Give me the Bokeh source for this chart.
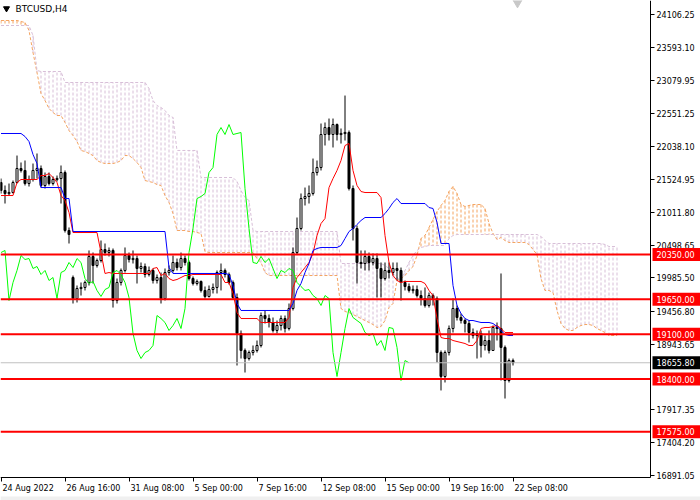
from bokeh.plotting import figure
from bokeh.models import Range1d, FixedTicker, PrintfTickFormatter, LinearAxis
from bokeh.core.properties import value
from bokeh.embed import file_html
from bokeh.resources import INLINE

symbol_title = "BTCUSD,H4"
time_labels = ["24 Aug 2022", "26 Aug 16:00", "31 Aug 08:00", "5 Sep 00:00", "7 Sep 16:00",
               "12 Sep 08:00", "15 Sep 00:00", "19 Sep 16:00", "22 Sep 08:00"]
time_label_bars = [0, 16, 32, 48, 64, 80, 96, 112, 128]
price_ticks = [24106.25, 23593.10, 23079.95, 22551.25, 22038.10, 21524.95, 21011.80,
               20498.65, 19985.50, 19456.80, 18943.65, 17917.35, 17404.20, 16891.05]
levels = [20350.0, 19650.0, 19100.0, 18400.0, 17575.0]
last_price = 18655.80
chikou_shift = 26

opens = [21477, 21352, 21304, 21320, 21477, 21696, 21665, 21461, 21524, 21665,
         21696, 21430, 21571, 21461, 21524, 21539, 21633, 20726, 19990, 19661,
         19818, 19834, 19912, 20319, 20178, 20256, 20428, 20381, 20413, 19630,
         19912, 20100, 20334, 20272, 20287, 20131, 20162, 20037, 20100, 19943,
         19990, 19661, 20068, 20100, 20225, 20146, 20287, 20225, 19974, 19896,
         19928, 19787, 19693, 19802, 19834, 20068, 20100, 20037, 19912, 19677,
         19114, 18848, 18722, 18816, 18848, 18926, 19395, 19348, 19286, 19161,
         19239, 19348, 19192, 19505, 20381, 20757, 21226, 21258, 21305, 21633,
         21711, 22228, 22337, 22228, 22384, 22228, 22244, 22259, 21383, 20757,
         20225, 20209, 20319, 20225, 20287, 20131, 19974, 20100, 20068, 20131,
         20100, 19912, 19849, 19787, 19802, 19708, 19661, 19552, 19708, 19661,
         18816, 18441, 18816, 19192, 19505, 19364, 19317, 19270, 19129, 19082,
         19114, 18926, 19004, 18848, 19208, 19192, 18895, 18378, 18691]
highs = [21539, 21430, 21461, 21508, 21899, 21790, 21821, 21586, 21774, 21931,
         21743, 21633, 21633, 21571, 21586, 21743, 21665, 20773, 20021, 19865,
         19912, 19943, 20413, 20381, 20287, 20569, 20522, 20460, 20444, 19974,
         20131, 20460, 20381, 20413, 20334, 20225, 20209, 20162, 20131, 20037,
         20068, 20131, 20178, 20334, 20287, 20381, 20334, 20256, 20006, 19959,
         19943, 19849, 19865, 19896, 20100, 20209, 20131, 20068, 19943, 19740,
         19161, 18879, 18848, 18926, 19004, 19442, 19474, 19411, 19364, 19317,
         19395, 19395, 19583, 20460, 20929, 21305, 21398, 21430, 21852, 21821,
         22400, 22416, 22478, 22478, 22400, 22322, 22838, 22291, 21430, 20804,
         20413, 20413, 20381, 20366, 20366, 20225, 20225, 20225, 20225, 20225,
         20146, 19943, 19896, 19865, 19865, 19787, 19834, 19755, 19740, 19693,
         18848, 18848, 19239, 19661, 19552, 19426, 19348, 19317, 19192, 19161,
         19161, 19082, 19161, 19239, 19286, 20053, 18926, 18722, 18722]
lows = [21304, 21148, 21273, 21304, 21461, 21633, 21430, 21414, 21492, 21539,
        21399, 21383, 21430, 21430, 21492, 21148, 20694, 20522, 19583, 19599,
        19708, 19787, 19865, 19896, 20146, 20225, 20334, 20319, 19520, 19583,
        19865, 20068, 20225, 20209, 19896, 20068, 19990, 20006, 19896, 19896,
        19583, 19630, 20021, 20068, 20100, 20100, 20178, 19943, 19865, 19865,
        19755, 19661, 19677, 19740, 19740, 19787, 19990, 19881, 19646, 18613,
        18722, 18503, 18691, 18770, 18816, 18895, 19270, 19208, 19129, 19114,
        19161, 19129, 19161, 19474, 20350, 20726, 21117, 21148, 21273, 21586,
        21665, 22056, 22134, 22025, 22134, 22087, 22134, 21352, 20569, 19896,
        20131, 20100, 20100, 20178, 19677, 19677, 19943, 19974, 20021, 19943,
        19630, 19787, 19755, 19740, 19677, 19552, 19520, 19520, 19552, 18660,
        18222, 18347, 18770, 19129, 19317, 19270, 19129, 18973, 19035, 18722,
        18738, 18848, 18801, 18848, 19004, 18378, 18096, 18347, 18613]
closes = [21352, 21304, 21320, 21477, 21696, 21665, 21461, 21524, 21665, 21696,
          21430, 21571, 21461, 21524, 21539, 21633, 20726, 20663, 19661, 19818,
          19834, 19912, 20319, 20178, 20256, 20428, 20381, 20413, 19630, 19912,
          20100, 20334, 20272, 20287, 20131, 20162, 20037, 20100, 19943, 19990,
          19661, 20068, 20100, 20225, 20146, 20287, 20225, 19974, 19896, 19928,
          19787, 19693, 19802, 19834, 20068, 20100, 20037, 19912, 19677, 19114,
          18848, 18722, 18816, 18848, 18926, 19395, 19348, 19286, 19161, 19239,
          19348, 19192, 19505, 20381, 20757, 21226, 21258, 21305, 21633, 21711,
          22228, 22337, 22228, 22384, 22228, 22244, 22259, 21383, 20757, 20225,
          20209, 20319, 20225, 20287, 20131, 19974, 20100, 20068, 20131, 20100,
          19912, 19849, 19787, 19802, 19708, 19661, 19552, 19708, 19661, 18816,
          18441, 18816, 19192, 19505, 19364, 19317, 19270, 19129, 19082, 19114,
          18926, 19004, 18848, 19208, 19192, 18895, 18378, 18691, 18655.8]

tenkan = [21273, 21273, 21273, 21273, 21477, 21524, 21524, 21524, 21524, 21524,
          21586, 21586, 21618, 21555, 21477, 21273, 21195, 21007, 20694, 20694,
          20694, 20694, 20694, 20694, 20694, 20381, 20053, 20068, 20053, 20053,
          20053, 20053, 20053, 20053, 20053, 20053, 20053, 20053, 20131, 20146,
          20021, 20053, 19974, 19943, 19959, 19990, 20021, 20021, 20037, 20037,
          20037, 20037, 20037, 20037, 20037, 20037, 19912, 19912, 19740, 19442,
          19348, 19348, 19348, 19348, 19348, 19286, 19286, 19286, 19286, 19286,
          19286, 19286, 19364, 19834, 19990, 20068, 20146, 20225, 20366, 20647,
          20835, 20913, 21398, 21539, 21665, 21821, 22056, 22087, 21665, 21430,
          21336, 21320, 21320, 21320, 21320, 21242, 20647, 20225, 20021, 19943,
          19912, 19928, 19928, 19928, 19928, 19928, 19896, 19787, 19708, 19348,
          19051, 19035, 19035, 19004, 18988, 18973, 18957, 18926, 18926, 19004,
          19192, 19208, 19208, 19223, 19239, 19192, 19129, 19129, 19129]
kijun = [22244, 22244, 22244, 22244, 22244, 22244, 22197, 22118, 21915, 21774,
         21398, 21398, 21398, 21398, 21398, 21398, 21226, 21226, 20710, 20710,
         20710, 20710, 20710, 20710, 20710, 20710, 20710, 20710, 20710, 20710,
         20710, 20710, 20710, 20710, 20710, 20710, 20710, 20710, 20710, 20710,
         20710, 20710, 20146, 20053, 20053, 20053, 20053, 20053, 20053, 20053,
         20053, 20053, 20053, 20053, 20053, 20053, 20053, 20037, 19865, 19583,
         19474, 19474, 19474, 19474, 19474, 19474, 19474, 19474, 19474, 19474,
         19474, 19474, 19474, 19583, 19787, 19896, 20068, 20209, 20413, 20444,
         20460, 20460, 20460, 20460, 20460, 20491, 20600, 20710, 20757, 20820,
         20882, 20929, 20929, 20929, 20929, 20929, 20991, 21070, 21164, 21226,
         21148, 21148, 21148, 21148, 21148, 21148, 21148, 21085, 21070, 20851,
         20522, 20522, 20522, 19865, 19552, 19426, 19348, 19317, 19317, 19301,
         19286, 19286, 19286, 19270, 19223, 19161, 19098, 19082, 19082]
span_a = [24012, 24012, 24012, 24012, 24012, 23996, 23981, 23856, 23511, 23198,
          22870, 22760, 22635, 22572, 22525, 22525, 22416, 22291, 22212, 22118,
          21978, 21962, 21931, 21899, 21821, 21790, 21774, 21774, 21774, 21790,
          21821, 21899, 21899, 21852, 21790, 21711, 21508, 21492, 21477, 21445,
          21430, 21273, 21164, 20992, 20726, 20726, 20726, 20710, 20710, 20694,
          20679, 20397, 20381, 20381, 20381, 20381, 20381, 20381, 20381, 20381,
          20381, 20381, 20381, 20381, 20287, 20225, 20068, 20021, 20021, 20021,
          20021, 20021, 20021, 20021, 20021, 20021, 20021, 20021, 20021, 20021,
          20021, 20021, 20021, 20021, 20021, 19505, 19458, 19442, 19411, 19380,
          19348, 19317, 19286, 19254, 19208, 19223, 19317, 19520, 19583, 19943,
          19974, 20021, 20100, 20162, 20334, 20600, 20647, 20773, 20898, 21023,
          21117, 21195, 21336, 21414, 21305, 21132, 21101, 21117, 21132, 21132,
          21132, 21070, 20835, 20679, 20585, 20616, 20569, 20538, 20538, 20538,
          20538, 20538, 20507, 20428, 20350, 19974, 19787, 19787, 19755, 19474,
          19270, 19192, 19161, 19161, 19208, 19239, 19254, 19254, 19239, 19192,
          19161, 19129, 19082, 19082, 19082]
span_b = [23934, 23934, 23934, 23934, 23934, 23934, 23934, 23934, 23777, 23230,
          23214, 23214, 23214, 23214, 23214, 23214, 23042, 23042, 23042, 23042,
          23042, 23042, 23042, 23042, 23042, 23042, 23042, 23042, 23042, 23042,
          23042, 23042, 23042, 23042, 23042, 23042, 23042, 22948, 22760, 22682,
          22650, 22604, 22525, 22494, 21978, 21978, 21978, 21978, 21978, 21978,
          21555, 21555, 21555, 21555, 21555, 21555, 21555, 21555, 21555, 21492,
          21352, 21242, 21195, 20726, 20710, 20710, 20710, 20710, 20710, 20710,
          20710, 20710, 20710, 20710, 20710, 20710, 20710, 20710, 20710, 20710,
          20710, 20710, 20710, 20710, 20710, 20209, 20209, 20209, 20209, 20209,
          20209, 20209, 20209, 20209, 20209, 20209, 20178, 20131, 20053, 19990,
          19943, 20100, 20225, 20334, 20413, 20460, 20475, 20491, 20491, 20491,
          20491, 20491, 20600, 20647, 20663, 20663, 20663, 20663, 20663, 20663,
          20663, 20663, 20663, 20663, 20663, 20663, 20663, 20663, 20663, 20663,
          20663, 20663, 20663, 20663, 20663, 20632, 20569, 20522, 20522, 20522,
          20522, 20522, 20522, 20522, 20522, 20522, 20522, 20522, 20522, 20522,
          20522, 20507, 20475, 20475, 20475]

COL_A = "#F4A460"
COL_B = "#D8BFD8"
FONT = "DejaVu Sans"

# canvas geometry: the whole 700x500 canvas is the frame; the chart pane is its upper-left part
W, H = 700, 500
PANE_W, PANE_H = 650, 477
XMIN = -0.125
BAR_PX = 4.0
YMAX = 24325.4
PRICE_PER_PX = 15.651
dx = 1.0 / BAR_PX
dy = PRICE_PER_PX
XMAX = XMIN + W * dx
YMIN = YMAX - H * dy
XPANE = XMIN + PANE_W * dx          # right edge of the chart pane (price scale line)
YPANE = YMAX - PANE_H * dy          # bottom edge of the chart pane (time scale line)

p = figure(width=W, height=H, x_range=Range1d(XMIN, XMAX), y_range=Range1d(YMIN, YMAX),
           x_axis_location=None, y_axis_location=None,
           output_backend="svg", toolbar_location=None, min_border=0)
p.outline_line_color = None
p.grid.visible = False
p.background_fill_color = "white"
p.border_fill_color = "white"

# time scale
xa = LinearAxis(fixed_location=YPANE, bounds=(XMIN, XPANE))
xa.ticker = FixedTicker(ticks=time_label_bars, minor_ticks=[])
xa.major_label_overrides = {b: "" for b in time_label_bars}
xa.major_label_text_font_size = "1px"
xa.major_label_standoff = 0
xa.major_tick_in = 0
xa.major_tick_out = 4
xa.minor_tick_line_color = None
xa.axis_line_color = "black"
xa.major_tick_line_color = "black"
p.add_layout(xa, "below")

# price scale
ya = LinearAxis(fixed_location=XPANE, bounds=(YPANE, YMAX))
ya.ticker = FixedTicker(ticks=price_ticks, minor_ticks=[])
ya.formatter = PrintfTickFormatter(format="%.2f")
ya.major_label_text_font = FONT
ya.major_label_text_font_size = "8px"
ya.major_label_text_color = "black"
ya.major_tick_in = 0
ya.major_tick_out = 4
ya.major_label_standoff = 2
ya.minor_tick_line_color = None
ya.axis_line_color = "black"
ya.major_tick_line_color = "black"
p.add_layout(ya, "right")

# Ichimoku cloud (hatch + span lines)
ks = list(range(len(span_a)))
hx, ha, hb, hc = [], [], [], []
for k in ks:
    a, b = span_a[k], span_b[k]
    if a != b:
        hx.append(k)
        ha.append(a)
        hb.append(b)
        hc.append(COL_A if a > b else COL_B)
p.segment(x0=hx, y0=ha, x1=hx, y1=hb, line_color=hc, line_dash="3 2", line_width=1)
p.line(ks, span_a, line_color=COL_A, line_dash="3 2", line_width=1)
p.line(ks, span_b, line_color=COL_B, line_dash="3 2", line_width=1)

# candles
bars = list(range(len(closes)))
p.segment(x0=bars, y0=highs, x1=bars, y1=lows, line_color="black", line_width=1)
tops, bots, fills = [], [], []
for o, c in zip(opens, closes):
    t, b = max(o, c), min(o, c)
    if t - b < 1.2 * dy:
        m = (t + b) / 2
        t, b = m + 0.6 * dy, m - 0.6 * dy
    tops.append(t)
    bots.append(b)
    fills.append("white" if c > o else "black")
p.vbar(x=bars, width=0.5, top=tops, bottom=bots, fill_color=fills, line_color="black", line_width=1)

# Ichimoku lines
p.line(bars, tenkan, line_color="#FF0000", line_width=1)
p.line(bars, kijun, line_color="#0000FF", line_width=1)
chx = [i - chikou_shift for i in bars if i >= chikou_shift]
chy = [closes[i] for i in bars if i >= chikou_shift]
p.line(chx, chy, line_color="#00FF00", line_width=1)

# horizontal levels across the chart pane
p.segment(x0=[XMIN], y0=[last_price], x1=[XPANE], y1=[last_price], line_color="#C0C0C0", line_width=1)
p.segment(x0=[XMIN] * len(levels), y0=levels, x1=[XPANE] * len(levels), y1=levels,
          line_color="#FF0000", line_width=2)

# price boxes on the price scale
box_x = XPANE + 26 * dx
txt_x = XPANE + 6 * dx
p.rect(x=[box_x] * len(levels), y=levels, width=48, height=13, width_units="screen",
       height_units="screen", fill_color="#FF0000", line_color=None, level="overlay")
p.text(x=[txt_x] * len(levels), y=levels, text=[f"{lv:.2f}" for lv in levels], text_color="white",
       text_font=value(FONT), text_font_size="8px", text_baseline="middle", text_align="left",
       level="overlay")
p.rect(x=[box_x], y=[last_price], width=48, height=13, width_units="screen",
       height_units="screen", fill_color="black", line_color=None, level="overlay")
p.text(x=[txt_x], y=[last_price], text=[f"{last_price:.2f}"], text_color="white",
       text_font=value(FONT), text_font_size="8px", text_baseline="middle", text_align="left",
       level="overlay")

# time labels (left-aligned at their ticks)
p.text(x=[b + 1.5 * dx for b in time_label_bars], y=[YPANE - 11 * dy] * len(time_label_bars),
       text=time_labels, text_color="black", text_font=value(FONT), text_font_size="8px",
       text_baseline="middle", text_align="left")

# title
p.scatter(x=[XMIN + 6 * dx], y=[YMAX - 8 * dy], marker="inverted_triangle", size=6,
          fill_color="black", line_color="black")
p.text(x=[XMIN + 15 * dx], y=[YMAX - 8 * dy], text=[symbol_title], text_color="black",
       text_font=value(FONT), text_font_size="9px", text_baseline="middle", text_align="left")

# chart-shift marker
p.scatter(x=[XMIN + 517 * dx], y=[YMAX - 1 * dy], marker="inverted_triangle", size=11,
          fill_color="#C8C8C8", line_color="#C8C8C8")

# window bottom strip
p.quad(left=[XMIN], right=[XMAX], bottom=[YMIN], top=[YMIN + 4 * dy], fill_color="#F0F0F0",
       line_color=None)

open("out.html", "w").write(file_html(p, INLINE))
